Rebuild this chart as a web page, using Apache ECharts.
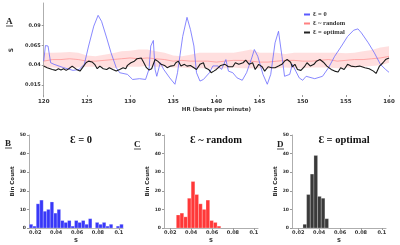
<!DOCTYPE html>
<html><head><meta charset="utf-8">
<script src="https://cdn.jsdelivr.net/npm/echarts@6/dist/echarts.min.js"></script>
<style>html,body{margin:0;padding:0;background:#fff}#c{width:400px;height:245px}</style>
</head><body><div id="c"></div>
<script>
// ---- Panel A data ----
const hrTicks = [120,125,130,135,140,145,150,155,160];
const sTicks = [0.015,0.04,0.065,0.09];
const hrGrid = [120,121,122,123,124,125,126,127,128,129,130,131,132,133,134,135,136,137,138,139,140,141,142,143,144,145,146,147,148,149,150,151,152,153,154,155,156,157,158,159,160];
const randomMean = [0.045,0.047,0.047,0.048,0.047,0.045,0.045,0.046,0.047,0.048,0.049,0.048,0.049,0.048,0.047,0.045,0.046,0.045,0.045,0.045,0.0438,0.045,0.046,0.0459,0.045,0.0438,0.0438,0.045,0.0459,0.046,0.045,0.045,0.046,0.047,0.045,0.046,0.047,0.047,0.048,0.049,0.051];
const randomHigh = [0.0555,0.0555,0.056,0.0565,0.0555,0.052,0.051,0.053,0.055,0.0575,0.058,0.0596,0.0596,0.0575,0.0555,0.052,0.051,0.053,0.0555,0.0555,0.0555,0.0555,0.0555,0.0575,0.0596,0.0555,0.0555,0.0555,0.054,0.0555,0.0555,0.0555,0.0555,0.0555,0.0555,0.055,0.0555,0.0575,0.059,0.062,0.0638];
const randomLow = [0.037,0.037,0.036,0.036,0.037,0.038,0.038,0.037,0.036,0.037,0.038,0.038,0.039,0.038,0.038,0.037,0.037,0.036,0.036,0.036,0.035,0.036,0.037,0.036,0.036,0.036,0.035,0.036,0.037,0.036,0.036,0.037,0.037,0.037,0.036,0.037,0.037,0.038,0.039,0.040,0.043];
const zeroHR = [120.0,120.2,120.5,120.8,121.2,122.3,123.4,124.1,124.7,125.2,125.8,126.3,126.7,127.3,127.8,128.4,128.8,129.7,130.3,131.1,131.8,132.2,132.4,132.7,132.9,133.1,133.5,133.9,134.6,135.2,135.5,136.1,136.6,137.0,137.4,137.7,138.1,138.5,139.2,139.6,140.2,140.6,141.1,141.4,141.9,142.4,143.0,143.5,144.1,144.4,144.8,145.4,145.9,146.3,146.8,147.2,147.6,147.9,148.5,148.8,149.2,149.6,150.0,150.4,151.4,152.3,153.0,153.7,154.5,155.2,155.9,156.4,156.8,157.6,158.3,159.0,159.6,160.0];
const zeroS = [0.045,0.0646,0.064,0.043,0.041,0.0368,0.0334,0.0346,0.041,0.064,0.089,0.1025,0.095,0.074,0.0555,0.0368,0.0305,0.0284,0.022,0.023,0.022,0.035,0.064,0.071,0.0346,0.026,0.043,0.0346,0.024,0.016,0.0305,0.076,0.1,0.0846,0.064,0.0305,0.020,0.022,0.0305,0.039,0.039,0.0346,0.047,0.0325,0.0305,0.024,0.021,0.0305,0.049,0.0596,0.051,0.0284,0.016,0.0284,0.068,0.0825,0.051,0.026,0.0284,0.041,0.0325,0.024,0.021,0.026,0.023,0.026,0.0368,0.051,0.064,0.076,0.0838,0.0855,0.0805,0.068,0.0555,0.041,0.0346,0.031];
const optHR = [120.0,120.4,121.0,121.4,121.7,122.0,122.3,122.6,122.9,123.3,123.5,123.8,124.2,124.5,124.9,125.2,125.6,125.9,126.2,126.5,126.9,127.3,127.6,128.0,128.4,128.8,128.9,129.2,129.5,129.7,130.1,130.5,130.8,131.0,131.3,131.6,131.9,132.2,132.5,132.9,133.2,133.6,134.0,134.3,134.7,135.1,135.3,135.6,135.9,136.3,136.6,137.0,137.4,137.7,138.1,138.5,138.7,139.1,139.4,139.7,140.0,140.5,141.0,141.4,141.9,142.2,142.6,143.1,143.4,143.8,144.2,144.5,144.9,145.3,145.6,146.0,146.4,146.8,147.2,147.6,147.9,148.2,148.6,148.8,149.1,149.4,149.8,150.2,150.5,150.9,151.3,151.6,152.0,152.4,152.8,153.3,153.7,154.1,154.4,154.8,155.2,155.6,156.1,156.6,157.2,157.7,158.2,158.5,158.9,159.3,159.6,160.0];
const optS = [0.0388,0.0368,0.0346,0.0334,0.0355,0.034,0.0355,0.0334,0.0355,0.0388,0.0368,0.0346,0.0325,0.0368,0.043,0.045,0.044,0.041,0.0355,0.0388,0.0355,0.0346,0.0368,0.0346,0.0325,0.0346,0.0325,0.0368,0.0355,0.0397,0.043,0.045,0.048,0.0463,0.049,0.043,0.0368,0.034,0.0355,0.047,0.045,0.041,0.0396,0.0368,0.0388,0.0396,0.043,0.045,0.0388,0.041,0.0388,0.0396,0.0368,0.0346,0.041,0.043,0.0368,0.0346,0.0305,0.0325,0.0346,0.0396,0.041,0.038,0.038,0.043,0.041,0.043,0.0463,0.041,0.043,0.0346,0.041,0.038,0.0325,0.038,0.0368,0.0368,0.0388,0.041,0.045,0.047,0.0437,0.038,0.041,0.0346,0.0334,0.038,0.043,0.0388,0.041,0.045,0.047,0.0437,0.0388,0.0346,0.0325,0.0313,0.0368,0.0346,0.041,0.0388,0.038,0.0388,0.0368,0.0355,0.0325,0.0296,0.0388,0.043,0.047,0.049];

// ---- Histogram data (B, C, D) ----
const sHistTicks = [0.02,0.04,0.06,0.08,0.1];
const countTicks = [0,10,20,30,40,50];
const binStartB = 0.0143, binWidthB = 0.00333;
const countsB = [2,1,13,15,9,10,14,8,10,4,3,4,1,4,3,4,2,5,0,3,2,3,1,2,0,1,2];
const binStartC = 0.0258, binWidthC = 0.00355;
const countsC = [7,8,6,16,25,18,13,10,15,4,3,1];
const binStartD = 0.0245, binWidthD = 0.0035;
const countsD = [2,18,29,39,17,16,5];

const titles = ['Ɛ = 0','Ɛ ~ random','Ɛ = optimal'];
const panelLetters = ['A','B','C','D'];

// ---- build ----
const sans = "'DejaVu Sans', sans-serif";
const serif = "'Liberation Serif','DejaVu Serif', serif";
const axisGray = '#999';
const labelCol = '#333';

function bins(start, w, counts){ return counts.map((c,i)=>[start+i*w, start+(i+1)*w, c]); }
function histRender(params, api){
  const lo = api.value(0), hi = api.value(1), c = api.value(2);
  const p0 = api.coord([lo, c]), p1 = api.coord([hi, 0]);
  return {type:'rect', shape:{x:p0[0], y:p0[1], width:p1[0]-p0[0], height:p1[1]-p0[1]},
    style:{fill: api.visual('color'), stroke:'rgba(255,255,255,0.8)', lineWidth:0.3}};
}
function bandRender(params, api){
  if (params.dataIndex !== 0) return null;
  const top = [], bot = [];
  for (let i=0;i<hrGrid.length;i++){
    top.push(api.coord([hrGrid[i], randomHigh[i]]));
    bot.push(api.coord([hrGrid[i], randomLow[i]]));
  }
  return {type:'polygon', shape:{points: top.concat(bot.reverse())}, style:{fill:'rgba(255,140,140,0.28)'}};
}

const histLefts = [29,164,292];
const grids = [{left:29, right:11, top:3, bottom:148}];
histLefts.forEach(l=>grids.push({left:l, width:94, top:135, bottom:15}));

const xAxes = [{
  gridIndex:0, type:'value', min:120, max:160, interval:5,
  axisLine:{show:false}, splitLine:{show:false},
  axisTick:{show:true, inside:true, length:2, lineStyle:{color:axisGray}},
  axisLabel:{fontSize:5.5, fontWeight:'bold', color:labelCol, fontFamily:sans, margin:2},
  name:'HR (beats per minute)', nameLocation:'middle', nameGap:10,
  nameTextStyle:{fontSize:5.5, fontWeight:'bold', color:'#333', fontFamily:sans}
}];
const yAxes = [{
  gridIndex:0, type:'value', min:0, max:0.118,
  axisLine:{show:true, lineStyle:{color:axisGray, width:0.8}}, splitLine:{show:false},
  axisTick:{show:true, length:2, customValues:sTicks, lineStyle:{color:axisGray}},
  axisLabel:{fontSize:5, fontWeight:'bold', color:labelCol, fontFamily:sans, margin:3, customValues:sTicks},
  name:'S', nameLocation:'middle', nameGap:20, nameRotate:90,
  nameTextStyle:{fontSize:6, fontWeight:'bold', color:'#333', fontFamily:sans}
}];
for (let g=1; g<=3; g++){
  xAxes.push({gridIndex:g, type:'value', min:0.014, max:0.104,
    axisLine:{show:true, lineStyle:{color:axisGray, width:0.8}}, splitLine:{show:false},
    axisTick:{show:true, length:2, customValues:sHistTicks, lineStyle:{color:axisGray}},
    axisLabel:{fontSize:5, fontWeight:'bold', color:labelCol, fontFamily:sans, margin:2, customValues:sHistTicks},
    name:'S', nameLocation:'middle', nameGap:10,
    nameTextStyle:{fontSize:5.5, fontWeight:'bold', color:'#333', fontFamily:sans}});
  yAxes.push({gridIndex:g, type:'value', min:0, max:50, interval:10,
    axisLine:{show:true, lineStyle:{color:axisGray, width:0.8}}, splitLine:{show:false},
    axisTick:{show:true, length:2, lineStyle:{color:axisGray}},
    axisLabel:{fontSize:4.5, fontWeight:'bold', color:labelCol, fontFamily:sans, margin:3},
    name:'Bin Count', nameLocation:'middle', nameGap:13, nameRotate:90,
    nameTextStyle:{fontSize:5.5, fontWeight:'bold', color:'#333', fontFamily:sans}});
}

const series = [
  {type:'custom', name:'band', xAxisIndex:0, yAxisIndex:0, renderItem:bandRender,
   data: hrGrid.map((h,i)=>[h, randomLow[i], randomHigh[i]]), encode:{x:0, y:[1,2]}, z:1, silent:true},
  {type:'line', name:titles[1], xAxisIndex:0, yAxisIndex:0, showSymbol:false, color:'#ff8080',
   lineStyle:{width:0.7, color:'#ff8c8c'}, data: hrGrid.map((h,i)=>[h, randomMean[i]]), z:2},
  {type:'line', name:titles[0], xAxisIndex:0, yAxisIndex:0, showSymbol:false, color:'#5a5aff',
   lineStyle:{width:0.8, color:'#6a6aff'}, data: zeroHR.map((h,i)=>[h, zeroS[i]]), z:3},
  {type:'line', name:titles[2], xAxisIndex:0, yAxisIndex:0, showSymbol:false, color:'#222',
   lineStyle:{width:1.1, color:'#1a1a1a'}, data: optHR.map((h,i)=>[h, optS[i]]), z:4},
  {type:'custom', xAxisIndex:1, yAxisIndex:1, renderItem:histRender, color:'#3838f8',
   data: bins(binStartB, binWidthB, countsB), encode:{x:[0,1], y:2}},
  {type:'custom', xAxisIndex:2, yAxisIndex:2, renderItem:histRender, color:'#ff3838',
   data: bins(binStartC, binWidthC, countsC), encode:{x:[0,1], y:2}},
  {type:'custom', xAxisIndex:3, yAxisIndex:3, renderItem:histRender, color:'#3a3a3a',
   data: bins(binStartD, binWidthD, countsD), encode:{x:[0,1], y:2}}
];

function letter(ch, x, y){
  return {type:'group', children:[
    {type:'text', x:x, y:y, style:{text:ch, font:"bold 9px "+serif, fill:'#222'}},
    {type:'line', shape:{x1:x, y1:y+9, x2:x+7, y2:y+9}, style:{stroke:'#222', lineWidth:0.8}}
  ]};
}

const option = {
  animation:false,
  grid: grids, xAxis: xAxes, yAxis: yAxes, series: series,
  legend:{data:[titles[0],titles[1],titles[2]], orient:'vertical', left:299, top:6,
    itemWidth:6, itemHeight:2, itemGap:2, icon:'rect',
    textStyle:{fontSize:6.5, fontWeight:'bold', fontFamily:serif, color:'#333', padding:[0,0,0,-2]}},
  title: [0,1,2].map(i=>({text:titles[i], left: histLefts[i]+47, top:130, textAlign:'center',
    textStyle:{fontSize:10.5, fontWeight:'bold', fontFamily:serif, color:'#111'}})),
  graphic: [letter('A',6,17), letter('B',5,139), letter('C',134,140), letter('D',277,140)]
};
const chart = echarts.init(document.getElementById('c'), null, {renderer:'canvas'});
chart.setOption(option);
</script></body></html>
